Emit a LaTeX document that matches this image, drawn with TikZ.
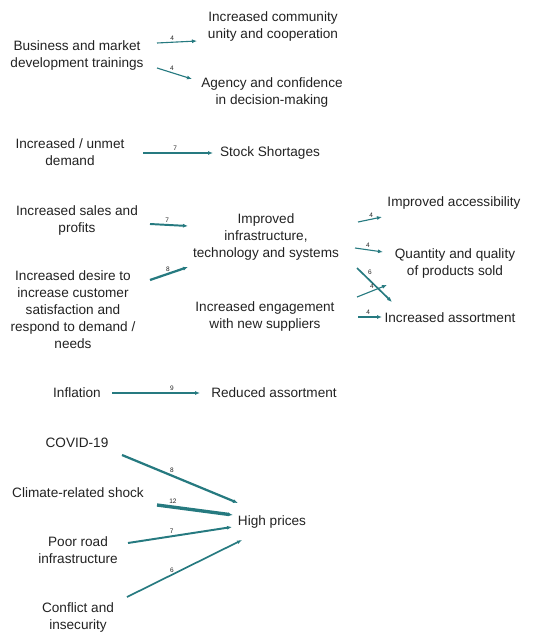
\documentclass[tikz,border=0pt]{standalone}
\usepackage{fontspec}
\setmainfont{Liberation Sans}
\usetikzlibrary{arrows.meta}
\definecolor{flowteal}{RGB}{38,122,128}
\definecolor{inkgray}{RGB}{34,34,34}
\begin{document}
\begin{tikzpicture}[x=1pt, y=-1pt, auto, every node/.style={scale=1}]
    \tikzset{txt/.style={align=center, inner sep=1pt, text=inkgray, font=\fontsize{13.6}{17}\selectfont}};
    \tikzset{flow/.style={draw=flowteal, line width=0.28pt*#1, -{Latex[length=5pt,width=4pt]}}};
    \tikzset{num/.style={font=\fontsize{6.5}{7}\selectfont, text=inkgray, inner sep=1.5pt, above}};
    \useasboundingbox (0,0) rectangle (534,632);
    % nodes
    \node[txt] (train) at (77,55) {Business and market\\development trainings};
    \node[txt] (unity) at (273,26) {Increased community\\unity and cooperation};
    \node[txt] (agency) at (272,92) {Agency and confidence\\in decision-making};
    \node[txt] (demand) at (70,152) {Increased / unmet\\demand};
    \node[txt] (stock) at (270,153) {Stock Shortages};
    \node[txt] (sales) at (77,220) {Increased sales and\\profits};
    \node[txt] (desire) at (73,310) {Increased desire to\\increase customer\\satisfaction and\\respond to demand /\\needs};
    \node[txt] (infra) at (266,237) {Improved\\infrastructure,\\technology and systems};
    \node[txt] (suppl) at (265,316) {Increased engagement\\with new suppliers};
    \node[txt] (access) at (454,203) {Improved accessibility};
    \node[txt] (qual) at (455,263) {Quantity and quality\\of products sold};
    \node[txt] (incas) at (450,318) {Increased assortment};
    \node[txt] (infl) at (77,393) {Inflation};
    \node[txt] (redas) at (274,393) {Reduced assortment};
    \node[txt] (covid) at (77,443) {COVID-19};
    \node[txt] (climate) at (78,493) {Climate-related shock};
    \node[txt] (road) at (78,550) {Poor road\\infrastructure};
    \node[txt] (conflict) at (78,617) {Conflict and\\insecurity};
    \node[txt] (prices) at (272,522) {High prices};
    % links
    {
      \path
        ([shift={(80,-12)}]train.center) edge[flow=4] node[num,pos=.38] {4} ([shift={(-76,15)}]unity.center)
        ([shift={(80,13)}]train.center) edge[flow=4] node[num,pos=.43] {4} ([shift={(-80,-13)}]agency.center)
        ([shift={(73,1)}]demand.center) edge[flow=7] node[num,pos=.46] {7} ([shift={(-57,0)}]stock.center)
        ([shift={(73,4)}]sales.center) edge[flow=7] node[num,pos=.45] {7} ([shift={(-78,-11)}]infra.center)
        ([shift={(77,-30)}]desire.center) edge[flow=8] node[num,pos=.47] {8} ([shift={(-78,30)}]infra.center)
        ([shift={(92,-15)}]infra.center) edge[flow=4] node[num,pos=.55] {4} ([shift={(-72,14)}]access.center)
        ([shift={(89,11)}]infra.center) edge[flow=4] node[num,pos=.46] {4} ([shift={(-72,-11)}]qual.center)
        ([shift={(91,31)}]infra.center) edge[flow=6] node[num,pos=.25,anchor=south west] {6} ([shift={(-58,-16)}]incas.center)
        ([shift={(92,-19)}]suppl.center) edge[flow=4] node[num,pos=.5] {4} ([shift={(-68,22)}]qual.center)
        ([shift={(93,1)}]suppl.center) edge[flow=4] node[num,pos=.42] {4} ([shift={(-68,-1)}]incas.center)
        ([shift={(35,0)}]infl.center) edge[flow=9] node[num,pos=.68] {9} ([shift={(-74,0)}]redas.center)
        ([shift={(45,12)}]covid.center) edge[flow=8] node[num,pos=.43] {8} ([shift={(-34,-19)}]prices.center)
        ([shift={(79,12)}]climate.center) edge[flow=12] node[num,pos=.21] {12} ([shift={(-39,-7)}]prices.center)
        ([shift={(50,-7)}]road.center) edge[flow=7] node[num,pos=.42] {7} ([shift={(-40,5)}]prices.center)
        ([shift={(49,-20)}]conflict.center) edge[flow=6] node[num,pos=.39] {6} ([shift={(-30,18)}]prices.center)
        ;
    }
\end{tikzpicture}
\end{document}
